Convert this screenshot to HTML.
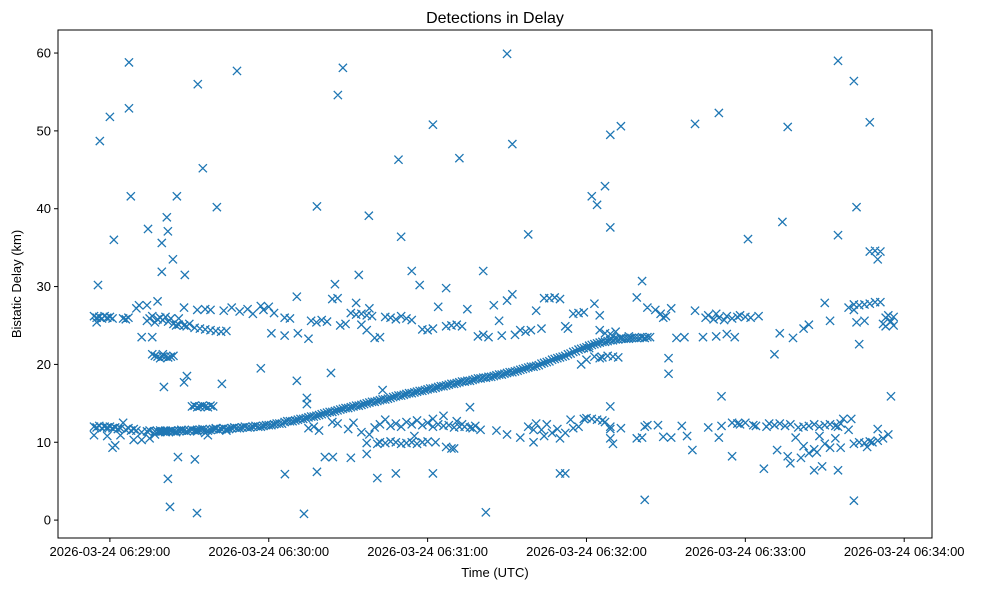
<!DOCTYPE html>
<html><head><meta charset="utf-8"><style>
html,body{margin:0;padding:0;background:#fff;}
svg{display:block;font-family:"Liberation Sans","DejaVu Sans",sans-serif;}
</style></head><body>
<svg id="chart" width="986" height="590" viewBox="0 0 986 590"></svg>
<script>
// seconds since 06:29:00 UTC, bistatic delay km
const xTickSeconds=[0,60,120,180,240,300];
const xTickLabels=["2026-03-24 06:29:00","2026-03-24 06:30:00","2026-03-24 06:31:00","2026-03-24 06:32:00","2026-03-24 06:33:00","2026-03-24 06:34:00"];
const yTicks=[0,10,20,30,40,50,60];
const trackCurve=[[18,11.4],[20,11.4],[22,11.4],[24,11.4],[26,11.5],[28,11.5],[30,11.5],[32,11.5],[34,11.6],[36,11.6],[38,11.6],[40,11.7],[42,11.7],[44,11.7],[46,11.8],[48,11.8],[50,11.9],[52,11.9],[54,12.0],[56,12.0],[58,12.1],[60,12.2],[62,12.3],[64,12.4],[66,12.6],[68,12.7],[70,12.8],[72,13.0],[74,13.1],[76,13.3],[78,13.4],[80,13.6],[82,13.8],[84,13.9],[86,14.1],[88,14.3],[90,14.4],[92,14.6],[94,14.7],[96,14.9],[98,15.1],[100,15.2],[102,15.4],[104,15.5],[106,15.7],[108,15.9],[110,16.0],[112,16.2],[114,16.3],[116,16.5],[118,16.6],[120,16.8],[122,16.9],[124,17.1],[126,17.2],[128,17.4],[130,17.5],[132,17.7],[134,17.8],[136,17.9],[138,18.1],[140,18.2],[142,18.3],[144,18.4],[146,18.6],[148,18.7],[150,18.9],[152,19.0],[154,19.2],[156,19.4],[158,19.6],[160,19.7],[162,19.9],[164,20.2],[166,20.4],[168,20.7],[170,20.9],[172,21.1],[174,21.4],[176,21.7],[178,22.0],[180,22.2],[182,22.5],[184,22.7],[186,22.9],[188,23.0],[190,23.1],[192,23.2],[194,23.3],[196,23.3],[198,23.4],[200,23.4],[202,23.4],[204,23.5]];
const trackCurveOdd=[[19,11.5],[21,11.3],[23,11.5],[25,11.4],[27,11.6],[29,11.4],[31,11.6],[33,11.4],[35,11.7],[37,11.5],[39,11.7],[41,11.6],[43,11.8],[45,11.7],[47,11.9],[49,11.8],[51,12.0],[53,11.9],[55,12.1],[57,12.0],[59,12.2],[61,12.2],[63,12.4],[65,12.4],[67,12.7],[69,12.7],[71,12.9],[73,13.0],[75,13.2],[77,13.3],[79,13.5],[81,13.7],[83,13.9],[85,14.0],[87,14.2],[89,14.4],[91,14.5],[93,14.7],[95,14.8],[97,15.0],[99,15.2],[101,15.3],[103,15.5],[105,15.6],[107,15.8],[109,16.0],[111,16.1],[113,16.3],[115,16.4],[117,16.6],[119,16.7],[121,16.9],[123,17.0],[125,17.2],[127,17.3],[129,17.5],[131,17.6],[133,17.8],[135,17.9],[137,18.0],[139,18.2],[141,18.3],[143,18.4],[145,18.5],[147,18.7],[149,18.8],[151,19.0],[153,19.1],[155,19.3],[157,19.5],[159,19.7],[161,19.8],[163,20.1],[165,20.3],[167,20.6],[169,20.8],[171,21.0],[173,21.3],[175,21.6],[177,21.9],[179,22.1],[181,22.4],[183,22.6],[185,22.8],[187,22.9],[189,23.1],[191,23.2],[193,23.3],[195,23.3],[197,23.4],[199,23.4],[201,23.5],[203,23.5]];
const lowBand=[[-6,12.0],[-5,11.9],[-4,12.1],[-3,11.8],[-2,12.0],[-1,11.9],[0,12.0],[1,11.8],[2,11.9],[3,11.7],[4,11.8],[5,12.5],[6,11.6],[7,11.8],[8,11.5],[9,11.7],[10,11.5],[12,11.3],[-6,10.9],[-1,10.8],[1,9.3],[2,9.6],[4,10.9],[9,10.3],[12,10.3],[15,10.5],[15,11.5],[17,11.0],[14,11.4],[17,11.4],[19,11.3],[21,11.5],[23,11.4],[25,11.3],[27,11.5],[29,11.4],[33,11.6],[36,11.2],[37,10.9],[40,11.8],[44,11.5],
[75,11.8],[77,12.0],[79,11.5],[84,12.6],[86,12.4],[90,11.7],[92,12.5],[95,11.3],[98,11.0],[100,11.9],[102,12.3],[104,12.9],[106,12.1],[108,12.4],[110,12.0],[112,12.6],[114,12.3],[116,12.8],[118,12.2],[120,12.5],[122,12.0],[124,12.3],[126,12.1],[128,12.2],[130,11.9],[132,12.0],[134,12.0],[136,11.9],[138,12.1],[140,11.6],[122,13.0],[126,13.4],[131,12.7],[133,12.3],[137,11.8],[127,9.4],[129,9.2],[115,10.8],[123,10.0],
[102,10.0],[104,9.9],[106,10.1],[108,10.0],[110,9.8],[112,9.9],[114,10.0],[116,9.8],[118,10.0],[120,10.1],[101,9.8],[97,8.5],[97,9.9],
[155,10.6],[158,12.0],[160,11.6],[161,12.4],[163,11.6],[164,10.8],[165,12.3],[167,11.2],[169,11.7],[170,10.5],[172,11.2],[174,12.9],[175,11.8],[177,12.0],[179,13.0],[180,13.1],[182,13.0],[184,12.9],[186,12.8],[187,12.6],[189,11.7],[189,12.0],[189,10.5],[190,9.8],[193,11.8],[199,10.5],[202,12.0],[201,10.6],[203,12.2],[207,12.2],[209,10.7],[212,10.6],[216,12.1],[218,10.8],[220,9.0],[226,11.9],[231,12.1],[235,12.5],[237,12.4],[238,12.3],[240,12.5],[243,12.2],[248,12.0],[249,12.4],[251,12.2],[253,12.4],[255,12.1],[257,12.3],[260,11.9],[262,12.0],[264,12.1],[266,12.3],[268,12.0],[270,12.2],[272,12.3],[274,12.1],[276,12.4],[259,10.6],[262,9.5],[261,8.0],[264,8.6],[266,9.1],[268,10.8],[270,9.8],[272,9.3],[274,10.5],[276,9.3],[269,6.9],[277,13.0],[279,11.6],[281,9.8],[283,10.0],[285,9.9],[287,10.1],[288,10.0],[290,10.2],[292,10.5],[294,11.0],[290,11.7],[286,9.4],[256,8.2],[275,12.0]];
const highBand=[[-6,26.2],[-5,26.0],[-4,26.1],[-3,25.9],[-2,26.2],[-1,26.0],[0,26.1],[1,25.9],[-5,25.4],[5,25.9],[6,25.8],[7,26.0],[10,27.2],[11,27.6],[14,25.6],[15,25.9],[16,26.2],[17,25.4],[18,25.8],[19,26.0],[20,25.7],[21,26.1],[22,25.5],[23,25.9],[24,25.2],[25,25.0],[26,25.1],[28,25.0],[29,24.9],[30,25.2],[32,24.7],[34,24.6],[36,24.5],[38,24.4],[40,24.3],[42,24.2],[44,24.3],[18,28.1],[12,23.5],[16,23.5],[20,21.3],[14,27.6],[26,25.9],[28,27.3],[33,27.0],[36,27.1],[38,27.0],[43,26.9],[46,27.3],[49,26.8],[52,27.1],[54,26.5],[57,27.5],[58,27.0],[60,27.4],[62,26.6],[61,24.0],[66,23.7],[71,24.0],[75,23.3],[66,26.0],[68,25.9],[76,25.6],[78,25.4],[80,25.7],[82,25.5],[84,28.4],[86,28.5],[87,25.0],[89,25.2],[91,26.6],[93,26.4],[95,26.5],[97,26.3],[99,26.2],[93,27.9],[98,27.2],[95,25.1],[97,24.4],[100,23.4],[102,23.5],[104,26.1],[106,26.0],[108,25.8],[110,26.2],[112,25.9],[114,25.7],[118,24.5],[120,24.4],[122,24.6],[124,27.4],[127,24.9],[129,25.0],[131,25.1],[133,24.9],[135,27.1],[139,23.6],[141,23.8],[143,23.5],[145,27.6],[147,25.6],[148,23.7],[150,28.2],[153,23.8],[155,24.4],[157,24.2],[159,24.4],[161,26.9],[163,24.6],[164,28.5],[166,28.5],[168,28.6],[170,28.4],[172,24.9],[173,24.6],[175,26.5],[177,26.6],[179,26.7],[183,27.8],[185,26.3],[185,24.4],[187,24.0],[189,23.9],[191,24.2],[190,23.6],[193,23.4],[196,23.6],[199,28.6],[203,27.3],[206,27.0],[208,26.5],[209,26.0],[210,26.2],[212,27.2],[214,23.4],[217,23.5],[221,26.9],[224,23.5],[225,26.0],[226,26.3],[228,25.8],[229,26.5],[230,26.0],[232,25.7],[233,26.2],[235,25.9],[237,26.1],[238,26.3],[240,26.1],[242,26.0],[245,26.2],[229,23.6],[233,23.9],[236,23.5],[253,24.0],[258,23.4],[270,27.9],[272,25.6],[279,27.3],[281,27.7],[283,27.6],[285,27.7],[287,27.8],[287,34.5],[289,34.6],[291,34.5],[290,33.5],[289,28.0],[291,28.0],[282,25.4],[285,25.6],[292,25.2],[293,26.0],[294,26.3],[295,25.5],[296,26.1],[293,24.9],[296,25.0],[264,25.1],[262,24.6],[281,27.0]];
const midClusters=[[17,21.1],[18,21.0],[19,20.8],[20,21.0],[21,21.0],[22,20.9],[23,21.0],[24,21.1],[16,21.3],[183,21.0],[185,20.8],[186,20.9],[188,21.1],[190,21.0],[192,20.9],[178,20.0],[180,20.6],[181,22.1],[31,14.6],[32,14.7],[33,14.5],[34,14.6],[35,14.7],[36,14.6],[37,14.5],[38,14.7],[39,14.6]];
const outliers=[[-3.8,48.7],[0,51.8],[1.5,36.0],[7.2,58.8],[7.2,52.9],[7.9,41.6],[-4.5,30.2],[14.4,37.4],[19.6,35.6],[21.5,38.9],[21.9,37.1],[23.8,33.5],[25.3,41.6],[28.3,31.5],[19.6,31.9],[33.2,56.0],[35.1,45.2],[40.4,40.2],[48,57.7],[32.9,0.9],[22.7,1.7],[21.9,5.3],[20.4,17.1],[25.7,8.1],[32.1,7.8],[28,17.7],[29.1,18.5],[42.3,17.5],[57,19.5],[70.6,28.7],[70.6,17.9],[66.1,5.9],[73.3,0.8],[74.4,15.7],[74.4,14.9],[78.2,40.3],[86.1,54.6],[88,58.1],[83.5,18.9],[78.2,6.2],[81.2,8.1],[84.2,8.1],[91,8.0],[85,30.3],[97.8,39.1],[94,31.5],[101,5.4],[103,16.7],[109,46.3],[110,36.4],[114,32.0],[117,30.2],[122,50.8],[122,6.0],[127,29.8],[132,46.5],[136,14.5],[141,32.0],[142,1.0],[150,59.9],[152,48.3],[152,29.0],[158,36.7],[182,41.6],[184,40.5],[187,42.9],[189,37.6],[189,49.5],[193,50.6],[189,14.6],[202,2.6],[201,30.7],[211,18.8],[211,20.8],[221,50.9],[230,52.3],[231,15.9],[241,36.1],[235,8.2],[247,6.6],[251,21.3],[254,38.3],[256,50.5],[266,6.4],[275,36.6],[275,59.0],[281,56.4],[282,40.2],[283,22.6],[287,51.1],[281,2.5],[275,6.4],[295,15.9],[257,7.3],[267,8.7],[108,6.0],[130,9.2],[170,6.0],[172,6.0],[146,11.5],[160,10.0],[230,10.6],[244,12.1],[252,9.0],[150,11.0],[280,13.0]];

const NS='http://www.w3.org/2000/svg';
const svg=document.getElementById('chart');
const L=58,R=932,T=30,B=538;
const X0=-19.6,X1=310.5,Y0=-2.3,Y1=62.96;
function xs(t){return L+(t-X0)/(X1-X0)*(R-L);}
function ys(d){return B-(d-Y0)/(Y1-Y0)*(B-T);}
function mk(tag,attrs,parent){const e=document.createElementNS(NS,tag);for(const k in attrs)e.setAttribute(k,attrs[k]);(parent||svg).appendChild(e);return e;}

const title=mk('text',{x:(L+R)/2,y:23,'text-anchor':'middle','font-size':'16',fill:'#000'});
title.textContent='Detections in Delay';



const pts=mk('g',{});


const all=[].concat(trackCurve,trackCurveOdd,lowBand,highBand,midClusters,outliers);
let dstr='';
for(const p of all){const cx=xs(p[0]),cy=ys(p[1]),h=4.1;
  dstr+=`M${cx-h},${cy-h}L${cx+h},${cy+h}M${cx-h},${cy+h}L${cx+h},${cy-h}`;}
const path=mk('path',{d:dstr,stroke:'#1f77b4','stroke-width':'1.3',fill:'none'},pts);



const frame=mk('rect',{x:L,y:T,width:R-L,height:B-T,fill:'none',stroke:'#000','stroke-width':'1'});



const xa=mk('g',{});


xTickSeconds.forEach((s,i)=>{const x=xs(s);
  mk('line',{x1:x,x2:x,y1:B,y2:B+4,stroke:'#000','stroke-width':'1'},xa);
  const t=mk('text',{x:x,y:B+18,'text-anchor':'middle','font-size':'13',fill:'#000'},xa);
  t.textContent=xTickLabels[i];
  
  });
const xt=mk('text',{x:(L+R)/2,y:577,'text-anchor':'middle','font-size':'13',fill:'#000'});
xt.textContent='Time (UTC)';



const ya=mk('g',{});


yTicks.forEach(v=>{const y=ys(v);
  mk('line',{x1:L-4,x2:L,y1:y,y2:y,stroke:'#000','stroke-width':'1'},ya);
  const t=mk('text',{x:L-7,y:y+4.5,'text-anchor':'end','font-size':'13',fill:'#000'},ya);
  t.textContent=String(v);
  
  });
const yt=mk('text',{x:0,y:0,'text-anchor':'middle','font-size':'13',fill:'#000',transform:`translate(21,${(T+B)/2}) rotate(-90)`});
yt.textContent='Bistatic Delay (km)';


</script>
</body></html>
